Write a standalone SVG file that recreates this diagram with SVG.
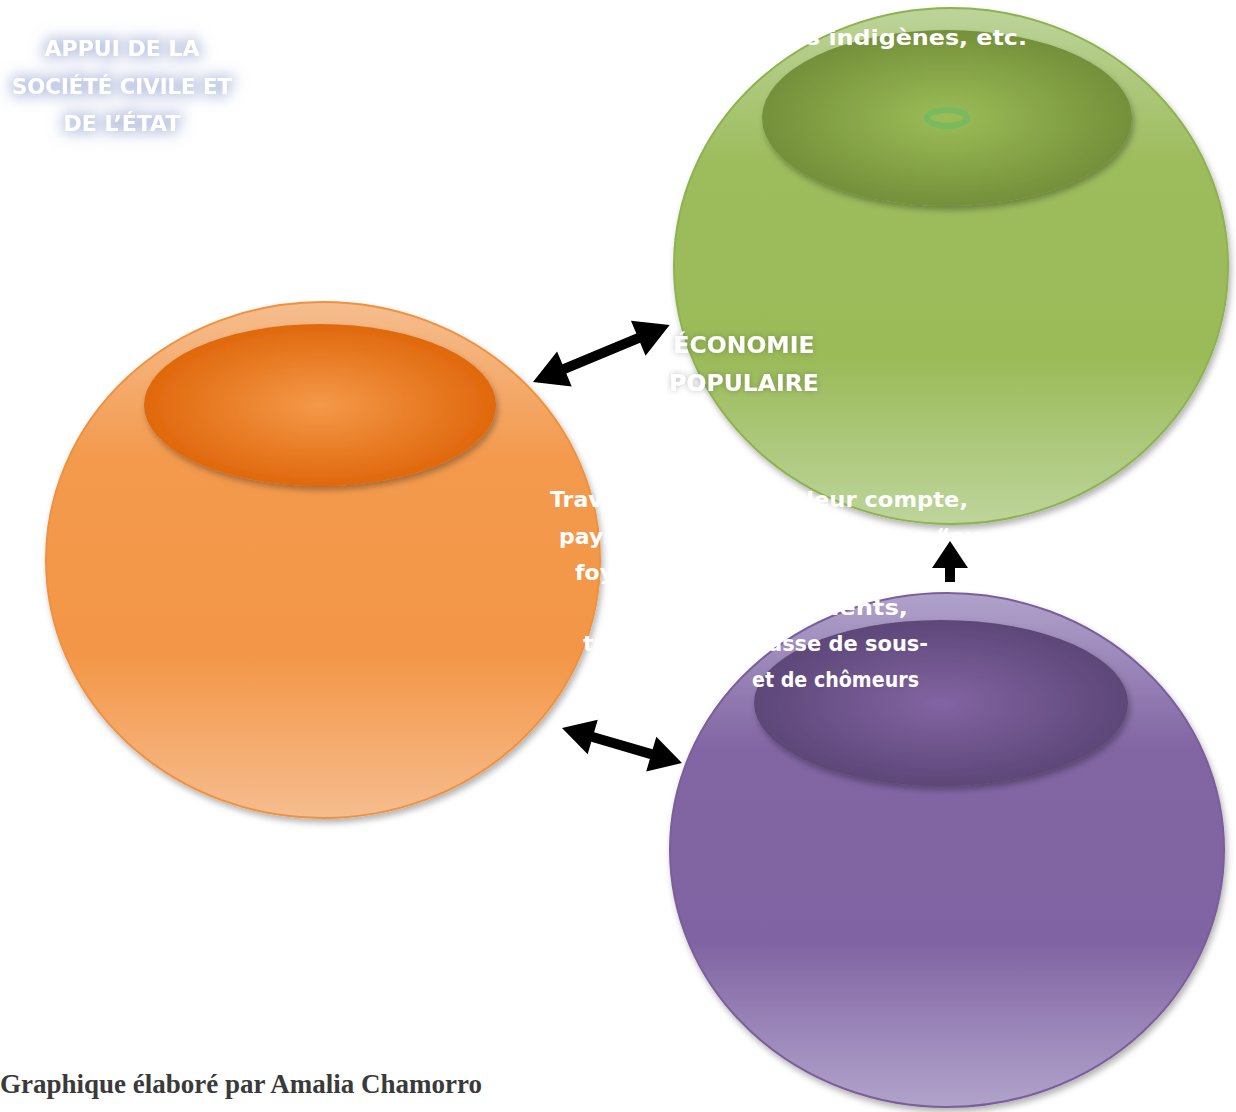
<svg xmlns="http://www.w3.org/2000/svg" width="1236" height="1112" viewBox="0 0 1236 1112">
<style>
.wt{fill:#ffffff;font-family:"DejaVu Sans",sans-serif;font-weight:bold;}
.cap{font-size:22px;}
.cap2{font-size:23.5px;}
.body{font-size:22px;}
.arrow{fill:#000000;}
.foot{fill:#3a3a3a;font-family:"Liberation Serif",serif;font-weight:bold;font-size:27px;}
</style>
<defs>
<linearGradient id="gOr" x1="0" y1="0" x2="0" y2="1">
<stop offset="0" stop-color="#f6bd8e"/><stop offset="0.3" stop-color="#f39a4e"/><stop offset="0.68" stop-color="#f39646"/><stop offset="1" stop-color="#f6bd8f"/>
</linearGradient>
<linearGradient id="gGr" x1="0" y1="0" x2="0" y2="1">
<stop offset="0" stop-color="#bcd49a"/><stop offset="0.3" stop-color="#9dbc5c"/><stop offset="0.68" stop-color="#9bbb59"/><stop offset="1" stop-color="#bdd59b"/>
</linearGradient>
<linearGradient id="gPu" x1="0" y1="0" x2="0" y2="1">
<stop offset="0" stop-color="#b0a2ca"/><stop offset="0.3" stop-color="#8266a4"/><stop offset="0.68" stop-color="#8064a2"/><stop offset="1" stop-color="#b1a3cb"/>
</linearGradient>
<radialGradient id="iOr" cx="0.5" cy="0.5" r="0.5">
<stop offset="0" stop-color="#f4994a"/><stop offset="1" stop-color="#e0680c"/>
</radialGradient>
<radialGradient id="iGr" cx="0.5" cy="0.5" r="0.5">
<stop offset="0" stop-color="#9cbd58"/><stop offset="1" stop-color="#74903a"/>
</radialGradient>
<radialGradient id="iPu" cx="0.5" cy="0.5" r="0.5">
<stop offset="0" stop-color="#8264a2"/><stop offset="1" stop-color="#5d4778"/>
</radialGradient>
<filter id="sh" x="-10%" y="-10%" width="130%" height="130%">
<feGaussianBlur in="SourceAlpha" stdDeviation="3"/>
<feOffset dx="2" dy="4" result="b"/>
<feFlood flood-color="#000" flood-opacity="0.3"/>
<feComposite in2="b" operator="in"/>
<feMerge><feMergeNode/><feMergeNode in="SourceGraphic"/></feMerge>
</filter>
<filter id="glow" x="-20%" y="-40%" width="140%" height="180%">
<feMorphology in="SourceAlpha" operator="dilate" radius="3" result="d"/>
<feGaussianBlur in="d" stdDeviation="7" result="b"/>
<feFlood flood-color="#a9b6da" flood-opacity="0.75"/>
<feComposite in2="b" operator="in"/>
<feMerge><feMergeNode/><feMergeNode in="SourceGraphic"/></feMerge>
</filter>
<filter id="tsh" x="-10%" y="-30%" width="120%" height="160%">
<feGaussianBlur in="SourceAlpha" stdDeviation="3" result="b"/>
<feFlood flood-color="#000" flood-opacity="0.25"/>
<feComposite in2="b" operator="in"/>
<feMerge><feMergeNode/><feMergeNode in="SourceGraphic"/></feMerge>
</filter>
</defs>
<rect width="1236" height="1112" fill="#ffffff"/>

<g id="node-orange">
<ellipse cx="323" cy="560" rx="277" ry="258" fill="url(#gOr)" stroke="#f0913e" stroke-width="2" filter="url(#sh)"/>
<ellipse cx="320" cy="405" rx="176" ry="81" fill="url(#iOr)" filter="url(#sh)"/>
</g>

<g id="node-green">
<ellipse cx="951" cy="266" rx="277" ry="258" fill="url(#gGr)" stroke="#8db24f" stroke-width="2" filter="url(#sh)"/>
<ellipse cx="947" cy="118" rx="185" ry="88" fill="url(#iGr)" filter="url(#sh)"/>
<ellipse cx="947" cy="118" rx="20" ry="8" fill="none" stroke="#7aba5e" stroke-width="6"/>
</g>

<g id="node-purple">
<ellipse cx="947" cy="850" rx="277" ry="257" fill="url(#gPu)" stroke="#7a5f9b" stroke-width="2" filter="url(#sh)"/>
<ellipse cx="941" cy="703" rx="187" ry="83" fill="url(#iPu)" filter="url(#sh)"/>
</g>

<g id="connectors">
<polygon class="arrow" transform="translate(533,382) rotate(-22.6)" points="0,0 34,-19 34,-5 114,-5 114,-19 148,0 114,19 114,5 34,5 34,19"/>
<polygon class="arrow" transform="translate(562,728) rotate(16.3)" points="0,0 32,-18 32,-5 93,-5 93,-18 125,0 93,18 93,5 32,5 32,18"/>
<polygon class="arrow" points="950,541 968,568 955,568 955,582 945,582 945,568 932,568"/>
</g>

<g id="label-appui" filter="url(#glow)">
<text class="wt cap" text-anchor="middle" x="122" y="56">APPUI DE LA</text>
<text class="wt cap" text-anchor="middle" x="122" y="94" textLength="220" lengthAdjust="spacingAndGlyphs">SOCIÉTÉ CIVILE ET</text>
<text class="wt cap" text-anchor="middle" x="122" y="131">DE L’ÉTAT</text>
</g>

<g id="label-economie" filter="url(#tsh)">
<text class="wt cap2" text-anchor="middle" x="744" y="353">ÉCONOMIE</text>
<text class="wt cap2" text-anchor="middle" x="744" y="391">POPULAIRE</text>
</g>

<g id="label-green-top">
<text class="wt body" x="806" y="45" textLength="221" lengthAdjust="spacingAndGlyphs">s indigènes, etc.</text>
</g>

<g id="label-middle">
<text class="wt body" x="550" y="507">Trav</text>
<text class="wt body" x="783" y="507" textLength="185" lengthAdjust="spacingAndGlyphs">à leur compte,</text>
<text class="wt body" x="559" y="544">pays</text>
<text class="wt body" x="900" y="544">es “au</text>
<text class="wt body" x="575" y="580">foy</text>
<text class="wt body" x="822" y="615" textLength="86" lengthAdjust="spacingAndGlyphs">nents,</text>
<text class="wt body" x="583" y="651">te</text>
<text class="wt body" x="768" y="651" textLength="160" lengthAdjust="spacingAndGlyphs">asse de sous-</text>
<text class="wt body" x="752" y="687" textLength="167" lengthAdjust="spacingAndGlyphs">et de chômeurs</text>
</g>

<text class="foot" x="0" y="1093">Graphique élaboré par Amalia Chamorro</text>
</svg>
